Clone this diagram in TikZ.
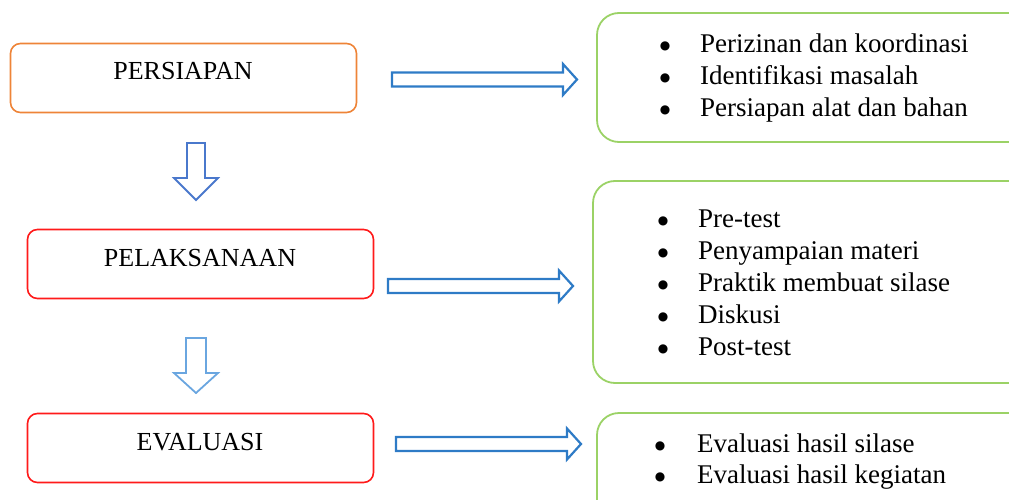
\documentclass[tikz,border=0pt]{standalone}
\usepackage{fontspec}
\setmainfont{Liberation Serif}
\newfontfamily\dotfont{DejaVu Sans}
\usetikzlibrary{positioning}
\definecolor{prep}{HTML}{EE8438}
\definecolor{stagered}{HTML}{FF1A1A}
\definecolor{listgreen}{HTML}{9BD266}
\definecolor{arrowblue}{HTML}{2E7BC6}
\definecolor{downblue}{HTML}{4A78CC}
\definecolor{downlight}{HTML}{6AA6E0}
\tikzset{
  flow/stage/.style={draw, line width=1.6pt, rounded corners=10pt,
    minimum width=346pt, minimum height=69pt, inner sep=0pt},
  flow/list/.style={draw=listgreen, line width=1.8pt, rounded corners=22pt,
    minimum width=440pt, inner sep=0pt},
  flow/title/.style={font=\fontsize{26}{30}\selectfont, anchor=base, inner sep=0pt},
  flow/item/.style={font=\fontsize{27}{32}\selectfont, anchor=base west, inner sep=0pt,
    text height=19pt, text depth=6pt},
  flow/dot/.style={font=\dotfont\fontsize{12}{14}\selectfont, anchor=base, inner sep=0pt},
  flow/rarrow/.style={draw=arrowblue, line width=2.2pt, line join=miter},
  flow/darrow/.style={line width=1.8pt, line join=miter}
}

\begin{document}
\begin{tikzpicture}[x=1pt, y=-1pt]
  \useasboundingbox (0,0) rectangle (1009,500);
  \clip (0,0) rectangle (1009,500);

  % stages on the left
  \node[flow/stage, draw=prep] (persiapan) at (183.5,78) {};
  \node[flow/title] (persiapan-t) at (183,80) {PERSIAPAN};
  \node[flow/stage, draw=stagered] (pelaksanaan) at (200.5,264) {};
  \node[flow/title] (pelaksanaan-t) at (200,266) {PELAKSANAAN};
  \node[flow/stage, draw=stagered] (evaluasi) at (200.5,448) {};
  \node[flow/title] (evaluasi-t) at (200,450) {EVALUASI};

  % hollow arrows between the stages
  \coordinate (down-a) at (196,143);
  \coordinate (down-b) at (196,338);
  \draw[flow/darrow, draw=downblue] (down-a) ++(-9,0) -- ++(18,0) -- ++(0,35)
    -- ++(13,0) -- ++(-22,22) -- ++(-22,-22) -- ++(13,0) -- cycle;
  \draw[flow/darrow, draw=downlight] (down-b) ++(-10,0) -- ++(20,0) -- ++(0,35)
    -- ++(12,0) -- ++(-22,20) -- ++(-22,-20) -- ++(12,0) -- cycle;

  % lists on the right
  \node[flow/list, minimum height=129pt] (list-a) at (817,77.5) {};
  \node[flow/list, minimum height=202pt] (list-b) at (813,282) {};
  \node[flow/list, minimum height=120pt] (list-c) at (817,473) {};

  \coordinate (right-a) at (392,79.5);
  \coordinate (right-b) at (388,286);
  \coordinate (right-c) at (396,444);
  \foreach \p in {right-a,right-b,right-c}
    \draw[flow/rarrow] (\p) ++(0,-7) -- ++(171,0) -- ++(0,-8.5) -- ++(14,15.5)
      -- ++(-14,15.5) -- ++(0,-8.5) -- ++(-171,0) -- cycle;

  \foreach \t [count=\i] in {Perizinan dan koordinasi, Identifikasi masalah, Persiapan alat dan bahan} {
    \node[flow/item] (item-a\i) at (700,{53+32*(\i-1)}) {\t};
    \node[flow/dot] (dot-a\i) at (665,{50+32*(\i-1)}) {●};
  }
  \foreach \t [count=\i] in {Pre-test, Penyampaian materi, Praktik membuat silase, Diskusi, Post-test} {
    \node[flow/item] (item-b\i) at (698,{227+32*(\i-1)}) {\t};
    \node[flow/dot] (dot-b\i) at (663,{224+32*(\i-1)}) {●};
  }
  \foreach \t [count=\i] in {Evaluasi hasil silase, Evaluasi hasil kegiatan} {
    \node[flow/item] (item-c\i) at (697,{452+31*(\i-1)}) {\t};
    \node[flow/dot] (dot-c\i) at (660,{449+31*(\i-1)}) {●};
  }
\end{tikzpicture}
\end{document}
